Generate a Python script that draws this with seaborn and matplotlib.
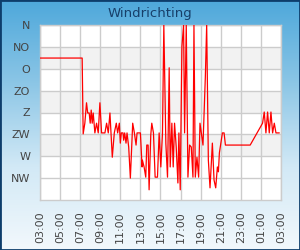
import numpy as np
import pandas as pd
import matplotlib
matplotlib.use("Agg")
import matplotlib.pyplot as plt
import matplotlib.dates as mdates
from matplotlib.colors import LinearSegmentedColormap
from matplotlib.patches import Rectangle
import seaborn as sns

# ── Data: wind direction (degrees, 0 = N) over 24h ───────────────────────────
TIMES = [
    "03:00", "07:12", "07:18", "07:28", "07:38", "07:45", "07:54", "08:00", "08:06", "08:12",
    "08:18", "08:28", "08:38", "08:48", "08:58", "09:08", "09:28", "09:38", "09:48", "09:58",
    "10:12", "10:24", "10:36", "10:44", "10:54", "11:00", "11:06", "11:16", "11:20", "11:26",
    "11:34", "11:40", "11:50", "12:00", "12:14", "12:24", "12:34", "12:40", "13:00", "13:10",
    "13:12", "13:22", "13:32", "13:38", "13:46", "13:52", "14:02", "14:08", "14:18", "14:28",
    "14:42", "14:52", "15:02", "15:12", "15:20", "15:32", "15:42", "15:52", "15:58", "16:08",
    "16:16", "16:24", "16:34", "16:44", "16:50", "16:58", "17:08", "17:18", "17:24", "17:34",
    "17:44", "17:54", "18:04", "18:14", "18:20", "18:28", "18:38", "18:48", "18:56", "19:04",
    "19:14", "19:28", "19:36", "19:46", "19:56", "20:10", "20:20", "20:30", "20:40", "20:46",
    "20:52", "21:10", "21:20", "21:28", "23:56", "01:10", "01:20", "01:30", "01:40", "01:50",
    "02:00", "02:10", "02:20", "02:30", "02:50",
]
DIRECTION = [
    68, 68, 224, 202, 160, 181, 181, 202, 175, 202,
    181, 222, 202, 222, 160, 222, 222, 202, 222, 181,
    272, 222, 202, 222, 202, 243, 222, 222, 237, 222,
    243, 222, 251, 315, 202, 222, 247, 222, 222, 292,
    278, 292, 313, 247, 247, 339, 226, 202, 222, 313,
    313, 222, 292, 222, 0, 243, 313, 88, 292, 202,
    292, 202, 251, 325, 222, 339, 45, 0, 222, 0,
    313, 247, 251, 313, 0, 313, 272, 313, 202, 222,
    247, 107, 0, 278, 335, 243, 319, 335, 292, 302,
    263, 222, 222, 247, 247, 202, 179, 222, 179, 222,
    179, 222, 202, 222, 222,
]
COMPASS = ["N", "NO", "O", "ZO", "Z", "ZW", "W", "NW"]
COMPASS_DEG = [0, 45, 90, 135, 180, 225, 270, 315]
SHADED_BANDS = [(45, 90), (135, 180), (225, 270)]

# build timestamps, rolling over midnight
stamps = []
day = pd.Timestamp("2024-01-01")
prev = None
for t in TIMES:
    ts = day + pd.Timedelta(hours=int(t[:2]), minutes=int(t[3:]))
    if prev is not None and ts < prev:
        day = day + pd.Timedelta(days=1)
        ts = ts + pd.Timedelta(days=1)
    stamps.append(ts)
    prev = ts
df = pd.DataFrame({"time": stamps, "direction": DIRECTION})

START = pd.Timestamp("2024-01-01 03:00")
END = pd.Timestamp("2024-01-02 03:00")

# ── Figure ────────────────────────────────────────────────────────────────────
sns.set_style("white")
plt.rcParams["font.family"] = ["DejaVu Sans"]

fig = plt.figure(figsize=(3, 2.5), dpi=100)

# gradient background
bg = fig.add_axes([0, 0, 1, 1], zorder=-10)
grad_cmap = LinearSegmentedColormap.from_list(
    "bg", ["#4ea8db", "#8cc6e6", "#d2e9f6", "#f2f8fc"])
bg.imshow(np.linspace(0, 1, 256).reshape(-1, 1), aspect="auto",
          cmap=grad_cmap, extent=[0, 1, 0, 1])
bg.set_axis_off()
fig.patches.append(Rectangle((0, 0), 1, 1, transform=fig.transFigure,
                             fill=False, edgecolor="#0d3d6b", linewidth=2))

fig.text(0.5, 0.946, "Windrichting", ha="center", va="center",
         fontsize=9.5, color="#173f69")

ax = fig.add_axes([0.1333, 0.2, 0.8033, 0.7])
ax.set_facecolor("white")
for lo, hi in SHADED_BANDS:
    ax.axhspan(lo, hi, color="#f2f2f2", zorder=0, linewidth=0)

sns.lineplot(data=df, x="time", y="direction", ax=ax, color="#ff0000",
             linewidth=0.9, zorder=3)

ax.set_ylim(360, 0)
ax.set_yticks(COMPASS_DEG)
ax.set_yticklabels(COMPASS)
ax.set_xlim(START, END)
ax.xaxis.set_major_locator(mdates.HourLocator(byhour=range(1, 24, 2)))
ax.xaxis.set_major_formatter(mdates.DateFormatter("%H:%M"))

ax.grid(True, color="#cccccc", linewidth=1, zorder=1)
ax.set_axisbelow(True)
for sp in ax.spines.values():
    sp.set_color("#cccccc")
    sp.set_linewidth(1)
ax.tick_params(axis="both", length=0, labelsize=8, labelcolor="#444444")
ax.tick_params(axis="y", pad=7)
ax.tick_params(axis="x", pad=8)
plt.setp(ax.get_xticklabels(), rotation=90)
ax.set_xlabel("")
ax.set_ylabel("")
if ax.get_legend():
    ax.get_legend().remove()

fig.savefig("out.png", dpi=100)
